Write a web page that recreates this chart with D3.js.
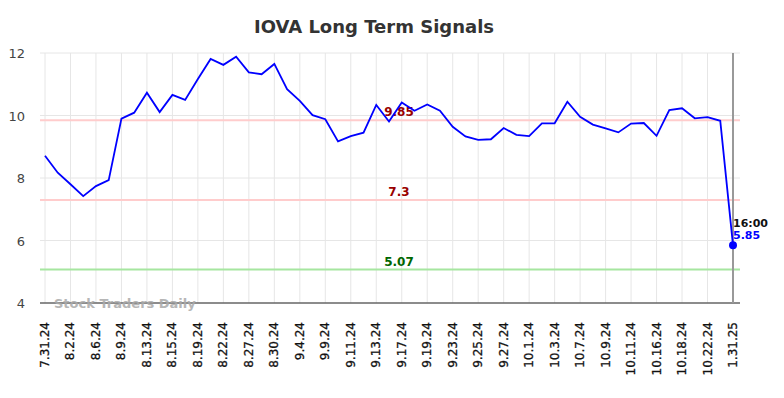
<!DOCTYPE html>
<html>
<head>
<meta charset="utf-8">
<script src="https://cdn.jsdelivr.net/npm/d3@7"></script>
<style>
  body { margin: 0; background: #fff; }
  svg { font-family: "DejaVu Sans", sans-serif; }
</style>
</head>
<body>
<div id="chart"></div>
<script>
// ---------------- data ----------------
var dates = ["7.31.24","8.1.24","8.2.24","8.5.24","8.6.24","8.8.24","8.9.24","8.12.24","8.13.24","8.14.24",
  "8.15.24","8.16.24","8.19.24","8.20.24","8.22.24","8.23.24","8.27.24","8.28.24","8.30.24","9.3.24",
  "9.4.24","9.5.24","9.9.24","9.10.24","9.11.24","9.12.24","9.13.24","9.16.24","9.17.24","9.18.24",
  "9.19.24","9.20.24","9.23.24","9.24.24","9.25.24","9.26.24","9.27.24","9.30.24","10.1.24","10.2.24",
  "10.3.24","10.4.24","10.7.24","10.8.24","10.9.24","10.10.24","10.11.24","10.14.24","10.16.24","10.17.24",
  "10.18.24","10.21.24","10.22.24","10.23.24","1.31.25"];
var prices = [8.71,8.17,7.80,7.42,7.74,7.93,9.90,10.09,10.73,10.11,
  10.66,10.50,11.17,11.81,11.62,11.88,11.38,11.32,11.65,10.84,
  10.47,10.01,9.88,9.17,9.34,9.45,10.34,9.81,10.42,10.15,
  10.35,10.15,9.64,9.33,9.22,9.24,9.60,9.38,9.34,9.75,
  9.75,10.44,9.96,9.71,9.59,9.46,9.74,9.76,9.35,10.17,
  10.23,9.91,9.95,9.83,5.85];
var tickLabels = ["7.31.24","8.2.24","8.6.24","8.9.24","8.13.24","8.15.24","8.19.24","8.22.24","8.27.24","8.30.24",
  "9.4.24","9.9.24","9.11.24","9.13.24","9.17.24","9.19.24","9.23.24","9.25.24","9.27.24","10.1.24",
  "10.3.24","10.7.24","10.9.24","10.11.24","10.16.24","10.18.24","10.22.24","1.31.25"];
var yTicks = [4, 6, 8, 10, 12];
var signalValues = [9.85, 7.3, 5.07];
var signalLabels = ["9.85", "7.3", "5.07"];
var lastTime = "16:00";

// ---------------- layout ----------------
var svgWidth = 784, svgHeight = 398;
var margin = { top: 53, right: 44, bottom: 95, left: 40 };
var width = svgWidth - margin.left - margin.right;
var height = svgHeight - margin.top - margin.bottom;

var svg = d3.select('#chart').append('svg')
    .attr('width', svgWidth)
    .attr('height', svgHeight);

var g = svg.append('g')
    .attr('transform', `translate(${margin.left},${margin.top})`);

// scales
var x = d3.scalePoint()
    .domain(dates)
    .range([5, width - 7]);

var y = d3.scaleLinear()
    .domain([4, 12])
    .range([height, 0]);

// title
svg.append('text')
    .attr('x', 374).attr('y', 33)
    .attr('text-anchor', 'middle')
    .style('font-size', '18px').style('font-weight', 'bold')
    .attr('fill', '#333')
    .text('IOVA Long Term Signals');

// grid
g.append('g').selectAll('line')
    .data(yTicks.slice(1))
    .enter().append('line')
    .attr('x1', 0).attr('x2', width)
    .attr('y1', d => y(d)).attr('y2', d => y(d))
    .attr('stroke', '#e6e6e6').attr('stroke-width', 1);

g.append('g').selectAll('line')
    .data(tickLabels)
    .enter().append('line')
    .attr('x1', d => x(d)).attr('x2', d => x(d))
    .attr('y1', 0).attr('y2', height)
    .attr('stroke', '#e6e6e6').attr('stroke-width', 1);

// y labels
g.append('g').selectAll('text')
    .data(yTicks)
    .enter().append('text')
    .attr('x', -15).attr('y', d => y(d) + 5)
    .attr('text-anchor', 'end')
    .style('font-size', '13px')
    .attr('fill', '#444')
    .text(d => d);

// x labels
g.append('g').selectAll('text')
    .data(tickLabels)
    .enter().append('text')
    .attr('transform', d => `translate(${x(d) + 4},${height + 19}) rotate(-90)`)
    .attr('text-anchor', 'end')
    .style('font-size', '12px')
    .attr('fill', '#111')
    .attr('stroke', '#111').attr('stroke-width', 0.3)
    .text(d => d);

// signal lines
var sigColors = ['#ffcccc', '#ffcccc', '#a6e6a0'];
var sigText = ['#990000', '#990000', '#006600'];
g.append('g').selectAll('line')
    .data(signalValues)
    .enter().append('line')
    .attr('x1', 0).attr('x2', width)
    .attr('y1', d => y(d)).attr('y2', d => y(d))
    .attr('stroke', (d, i) => sigColors[i]).attr('stroke-width', 2);

g.append('g').selectAll('text')
    .data(signalValues)
    .enter().append('text')
    .attr('x', 359).attr('y', d => y(d) - 4)
    .attr('text-anchor', 'middle')
    .style('font-size', '12px').style('font-weight', 'bold')
    .attr('fill', (d, i) => sigText[i])
    .text((d, i) => signalLabels[i]);

// x axis line
g.append('line')
    .attr('x1', 0).attr('x2', width)
    .attr('y1', height).attr('y2', height)
    .attr('stroke', '#666').attr('stroke-width', 1.5);

// watermark
g.append('text')
    .attr('x', 14).attr('y', height + 5)
    .style('font-size', '13px').style('font-weight', 'bold')
    .attr('fill', '#aaa').attr('opacity', 0.85)
    .text('Stock Traders Daily');

// last vertical marker
var lastDate = dates[dates.length - 1];
g.append('line')
    .attr('x1', x(lastDate)).attr('x2', x(lastDate))
    .attr('y1', 0).attr('y2', height)
    .attr('stroke', '#999').attr('stroke-width', 2);

// price line
var line = d3.line()
    .x((d, i) => x(dates[i]))
    .y(d => y(d));

g.append('path')
    .datum(prices)
    .attr('fill', 'none')
    .attr('stroke', '#0000ff')
    .attr('stroke-width', 1.8)
    .attr('d', line);

var lastPrice = prices[prices.length - 1];
g.append('circle')
    .attr('cx', x(lastDate)).attr('cy', y(lastPrice))
    .attr('r', 4).attr('fill', '#0000ff');

g.append('text')
    .attr('x', x(lastDate)).attr('y', y(lastPrice) - 18)
    .style('font-size', '11px').style('font-weight', 'bold')
    .attr('fill', '#111')
    .text(lastTime);

g.append('text')
    .attr('x', x(lastDate)).attr('y', y(lastPrice) - 6)
    .style('font-size', '11px').style('font-weight', 'bold')
    .attr('fill', '#0000ff')
    .text(lastPrice.toFixed(2));
</script>
</body>
</html>
